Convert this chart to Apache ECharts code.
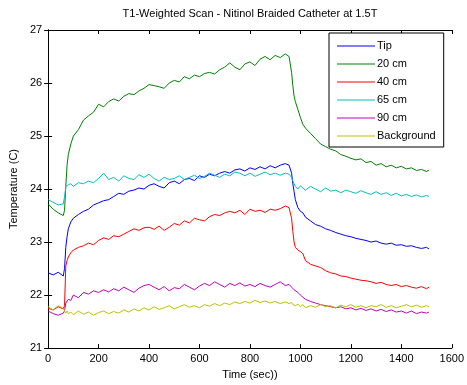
<!DOCTYPE html>
<html><head><meta charset="utf-8">
<script src="https://cdn.jsdelivr.net/npm/echarts@6/dist/echarts.min.js"></script>
<style>html,body{margin:0;padding:0;background:#fff}#c{width:467px;height:385px}</style>
</head><body><div id="c"></div>
<script>
const times = [0,20,40,60,65,70,75,80,90,100,120,140,160,180,200,220,240,260,280,300,320,340,360,380,400,420,440,460,480,500,520,540,560,580,600,620,640,660,680,700,720,740,760,780,800,820,840,860,880,900,920,940,955,965,970,975,980,990,1000,1010,1020,1040,1060,1080,1100,1120,1140,1160,1180,1200,1220,1240,1260,1280,1300,1320,1340,1360,1380,1400,1420,1440,1460,1480,1500,1510];

const tip = [22.42,22.38,22.43,22.36,22.50,22.90,23.10,23.25,23.38,23.45,23.52,23.58,23.62,23.70,23.74,23.78,23.80,23.86,23.92,23.90,23.96,23.98,24.02,24.00,24.07,24.10,24.05,24.02,24.12,24.15,24.10,24.18,24.20,24.16,24.25,24.22,24.28,24.25,24.30,24.33,24.30,24.36,24.38,24.34,24.40,24.37,24.42,24.38,24.44,24.40,24.45,24.48,24.45,24.30,24.10,23.95,23.80,23.65,23.58,23.55,23.47,23.40,23.33,23.30,23.25,23.22,23.18,23.15,23.12,23.10,23.07,23.05,23.03,23.00,23.02,22.98,22.96,22.98,22.94,22.95,22.92,22.93,22.90,22.88,22.90,22.87];

const cm20 = [23.72,23.62,23.55,23.50,23.60,24.05,24.45,24.65,24.85,25.00,25.12,25.30,25.38,25.45,25.60,25.55,25.65,25.70,25.66,25.75,25.80,25.78,25.85,25.90,25.97,25.95,25.93,25.90,26.00,26.05,26.02,26.12,26.08,26.15,26.12,26.18,26.20,26.17,26.25,26.30,26.38,26.30,26.25,26.36,26.40,26.33,26.45,26.50,26.44,26.52,26.48,26.55,26.50,26.20,25.95,25.75,25.65,25.50,25.35,25.22,25.15,25.05,24.95,24.85,24.80,24.75,24.72,24.65,24.62,24.58,24.55,24.57,24.50,24.52,24.45,24.48,24.42,24.45,24.40,24.43,24.38,24.40,24.35,24.37,24.33,24.36];

const cm40 = [21.75,21.72,21.78,21.74,21.80,22.55,22.65,22.72,22.80,22.85,22.90,22.93,22.98,22.95,23.03,23.08,23.05,23.12,23.10,23.15,23.20,23.25,23.22,23.27,23.28,23.24,23.30,23.22,23.28,23.35,23.32,23.40,23.36,23.45,23.42,23.40,23.48,23.52,23.50,23.55,23.58,23.55,23.60,23.52,23.62,23.58,23.60,23.56,23.62,23.60,23.63,23.68,23.65,23.45,23.20,23.00,22.90,22.85,22.82,22.78,22.65,22.58,22.55,22.52,22.46,22.42,22.40,22.36,22.35,22.32,22.30,22.28,22.27,22.25,22.22,22.24,22.20,22.18,22.20,22.16,22.18,22.15,22.13,22.16,22.12,22.15];

const cm65 = [23.80,23.75,23.70,23.72,23.85,24.05,24.02,24.08,24.10,24.05,24.12,24.10,24.15,24.12,24.20,24.30,24.18,24.22,24.15,24.25,24.20,24.18,24.27,24.22,24.28,24.20,24.15,24.22,24.18,24.20,24.25,24.18,24.22,24.26,24.20,24.24,24.30,24.26,24.22,24.28,24.25,24.32,24.30,24.25,24.30,24.24,24.28,24.32,24.27,24.30,24.26,24.30,24.28,24.22,24.15,24.10,24.05,24.00,24.06,24.02,23.98,24.05,24.00,23.95,24.02,23.96,23.98,23.93,23.98,23.95,23.92,23.97,23.93,23.90,23.95,23.90,23.93,23.88,23.92,23.87,23.90,23.86,23.89,23.85,23.88,23.86];

const cm90 = [21.70,21.65,21.62,21.66,21.70,21.85,21.88,21.92,21.90,22.00,21.95,22.05,22.02,22.08,22.05,22.10,22.06,22.12,22.08,22.15,22.10,22.05,22.13,22.18,22.20,22.15,22.10,22.16,22.08,22.14,22.12,22.20,22.15,22.10,22.17,22.22,22.18,22.25,22.20,22.15,22.22,22.18,22.23,22.17,22.20,22.16,22.22,22.18,22.15,22.20,22.25,22.18,22.20,22.15,22.12,22.10,22.08,22.05,22.00,21.96,21.92,21.88,21.85,21.82,21.80,21.78,21.76,21.78,21.74,21.76,21.72,21.75,21.71,21.74,21.70,21.73,21.69,21.72,21.68,21.70,21.66,21.70,21.65,21.68,21.66,21.68];

const background = [21.78,21.72,21.80,21.75,21.70,21.66,21.70,21.65,21.68,21.63,21.70,21.64,21.68,21.62,21.67,21.70,21.65,21.69,21.66,21.72,21.68,21.74,21.70,21.76,21.72,21.78,21.73,21.76,21.80,21.74,21.78,21.82,21.77,21.80,21.76,21.82,21.79,21.84,21.80,21.85,21.82,21.87,21.84,21.88,21.85,21.90,21.86,21.89,21.85,21.88,21.84,21.87,21.84,21.86,21.82,21.85,21.80,21.83,21.78,21.82,21.76,21.80,21.77,21.82,21.78,21.80,21.76,21.81,21.78,21.82,21.77,21.80,21.76,21.80,21.78,21.82,21.77,21.80,21.76,21.79,21.82,21.78,21.81,21.77,21.80,21.78];

const seriesNames = ['Tip','20 cm','40 cm','65 cm','90 cm','Background'];
const seriesValues = [tip, cm20, cm40, cm65, cm90, background];
const seriesColors = ['#0000ff','#008000','#ff0000','#00bfbf','#bf00bf','#bfbf00'];

const FONT = 'Liberation Sans';
const chart = echarts.init(document.getElementById('c'), null, {renderer:'canvas'});

const axisCommon = {
  axisLine:{show:true, lineStyle:{color:'#000', width:1}},
  axisTick:{show:true, inside:true, length:4, lineStyle:{color:'#000'}},
  splitLine:{show:false},
};
const plain = v => String(v);

chart.setOption({
  animation:false,
  backgroundColor:'#fff',
  graphic:[
    {type:'text', x:250, y:8, style:{text:'T1-Weighted Scan - Nitinol Braided Catheter at 1.5T', font:'11px "'+FONT+'"', fill:'#000', textAlign:'center'}}
  ],
  grid:{left:45, right:12, top:30, bottom:32, containLabel:false},
  legend:{
    orient:'vertical', left:329, top:33,
    padding:[7.5,8,5.5,8], itemGap:7, itemWidth:38, itemHeight:1,
    icon:'rect',
    backgroundColor:'#fff', borderColor:'#000', borderWidth:1,
    textStyle:{fontFamily:FONT, fontSize:11, color:'#000', lineHeight:10, padding:[0,0,0,-3]},
    data:seriesNames.map((n,i)=>({name:n, itemStyle:{color:seriesColors[i]}}))
  },
  xAxis:[
    Object.assign({type:'value', min:0, max:1600, interval:200, position:'bottom',
      name:'Time (sec))', nameLocation:'middle', nameGap:17,
      nameTextStyle:{fontFamily:FONT, fontSize:11, color:'#000'},
      axisLabel:{fontFamily:FONT, fontSize:11, color:'#000', margin:5, formatter:plain}}, axisCommon),
    Object.assign({type:'value', min:0, max:1600, interval:200, position:'top',
      axisLabel:{show:false}}, axisCommon)
  ],
  yAxis:[
    Object.assign({type:'value', min:21, max:27, interval:1, position:'left',
      name:'Temperature (C)', nameLocation:'middle', nameGap:27,
      nameTextStyle:{fontFamily:FONT, fontSize:11, color:'#000'},
      axisLabel:{fontFamily:FONT, fontSize:11, color:'#000', margin:6, formatter:plain}}, axisCommon),
    Object.assign({type:'value', min:21, max:27, interval:1, position:'right',
      axisLabel:{show:false}}, axisCommon)
  ],
  series: seriesNames.map((n,i)=>({
    name:n, type:'line', symbol:'none', xAxisIndex:0, yAxisIndex:0,
    data: times.map((t,j)=>[t, seriesValues[i][j]]),
    lineStyle:{color:seriesColors[i], width:1},
    itemStyle:{color:seriesColors[i]},
    emphasis:{disabled:true}
  }))
});
</script></body></html>
